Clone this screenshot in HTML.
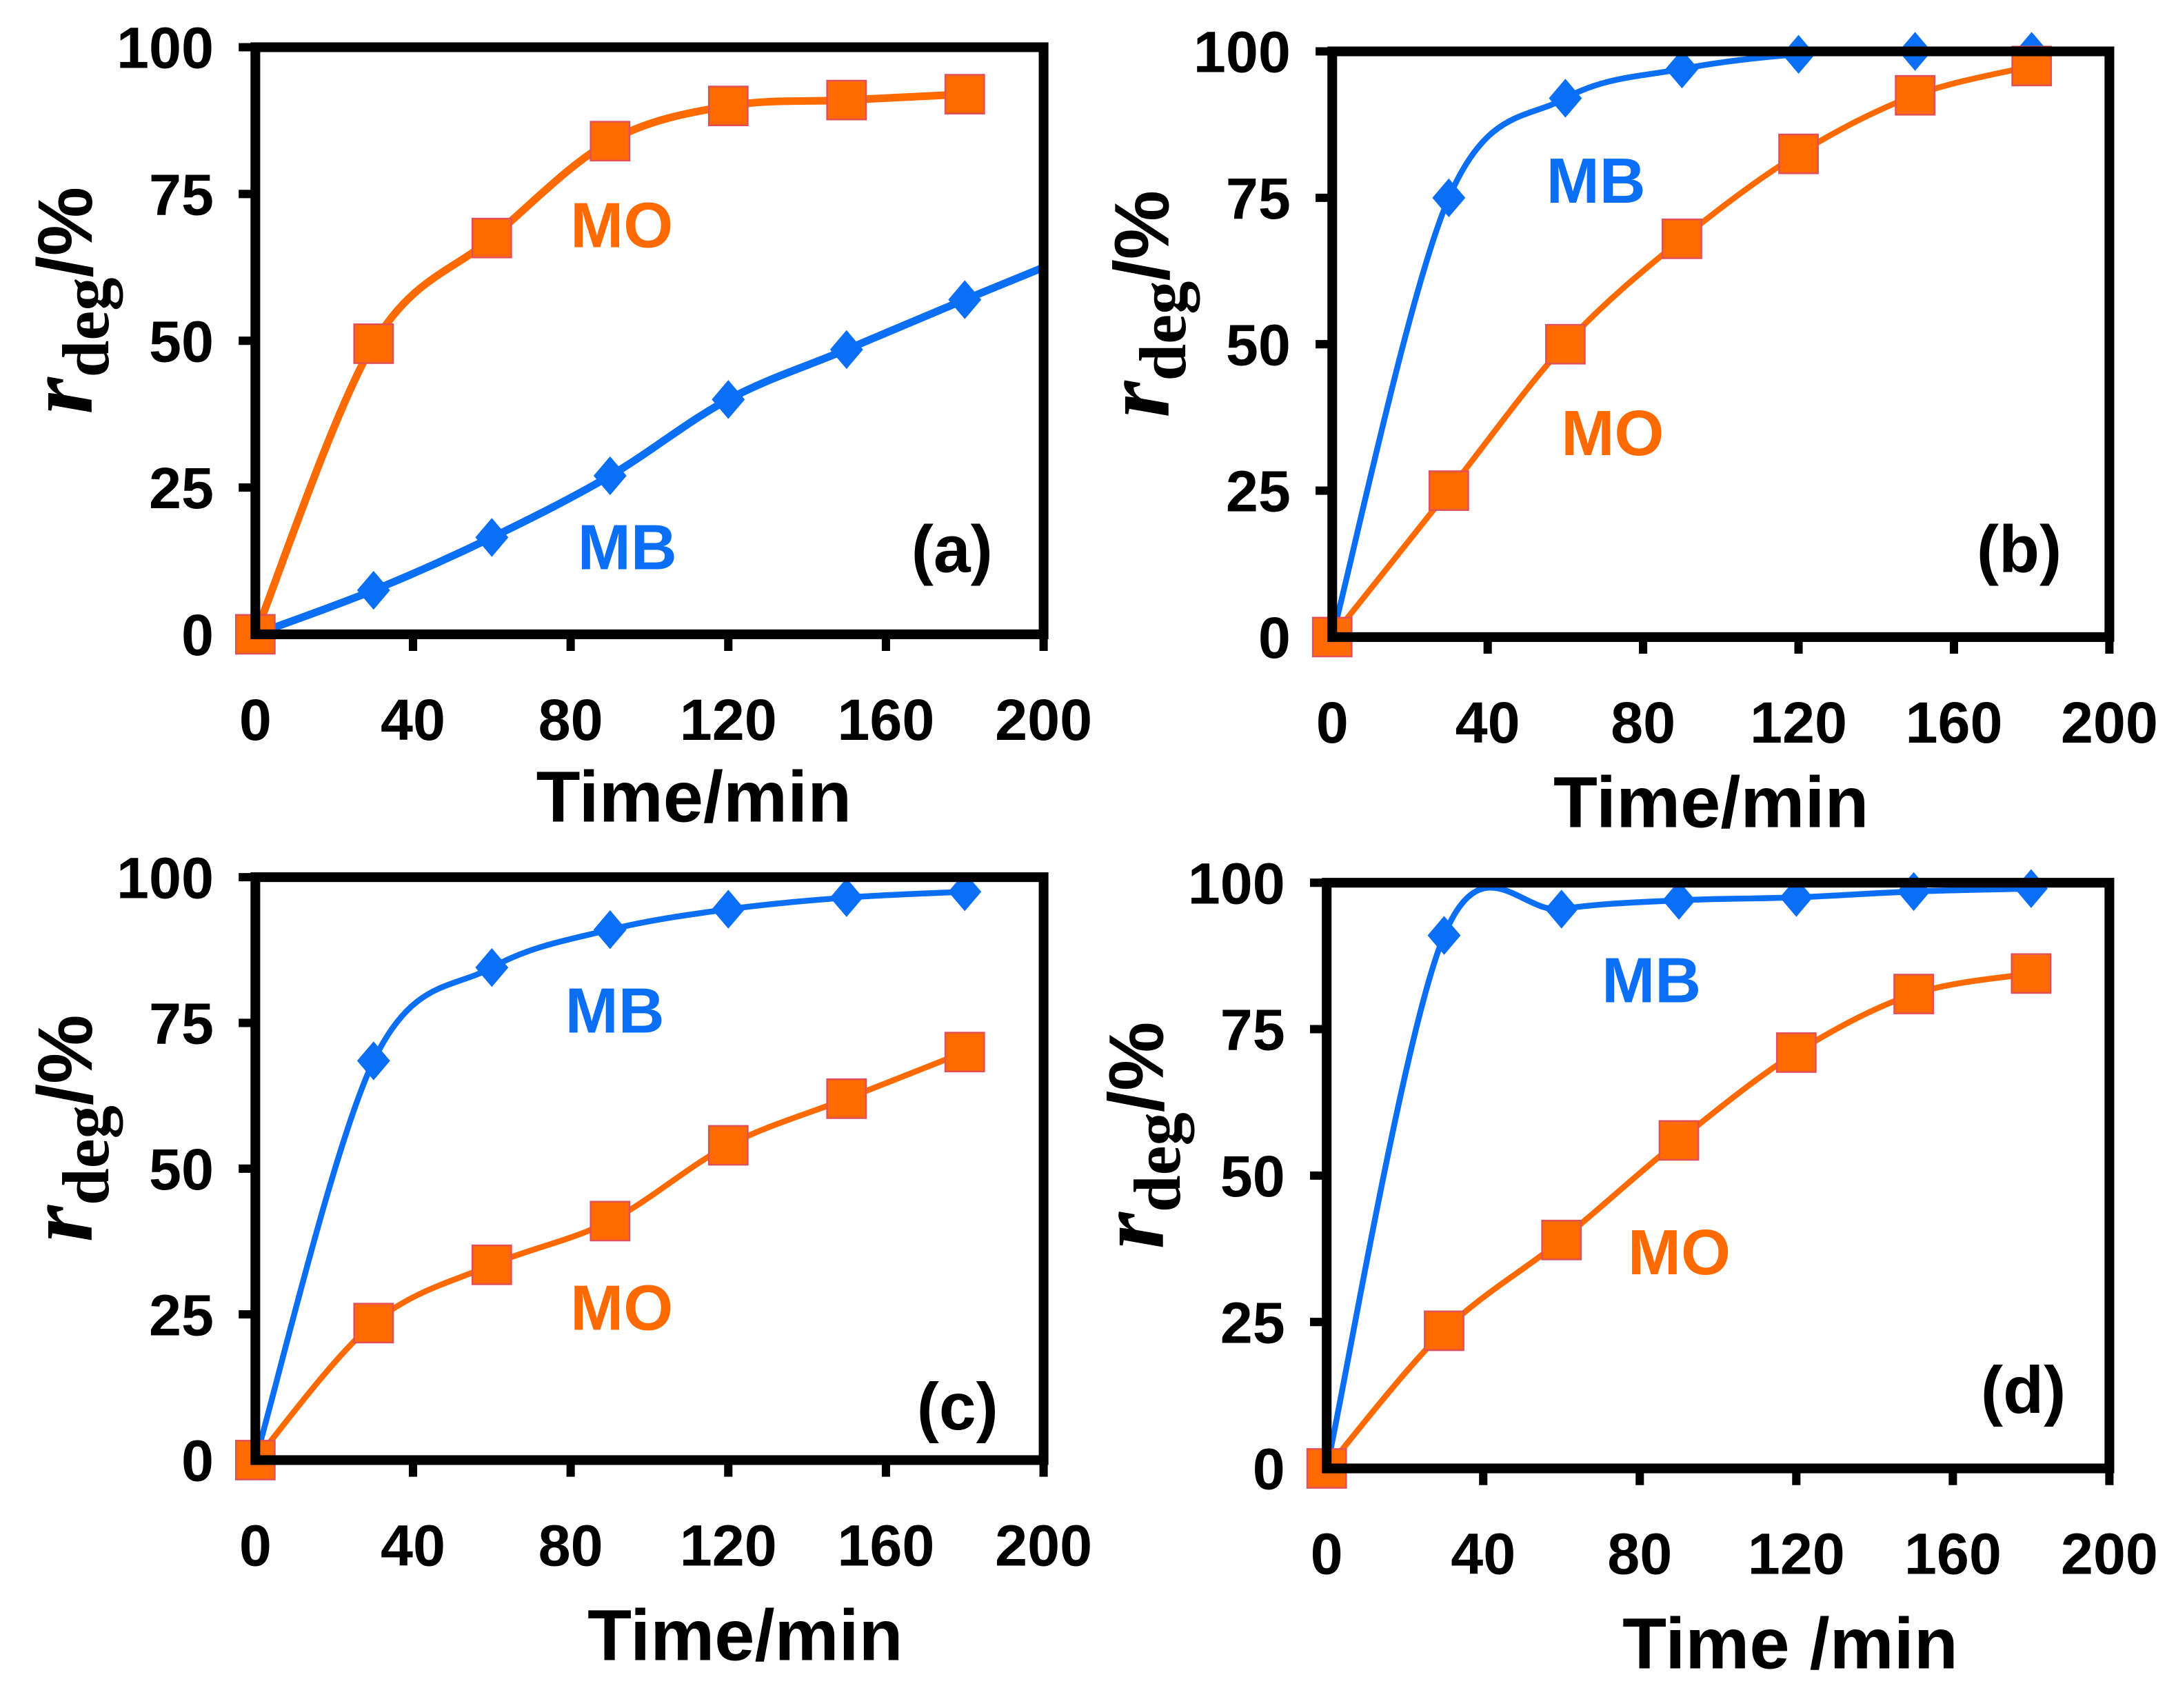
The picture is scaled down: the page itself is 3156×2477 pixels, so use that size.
<!DOCTYPE html>
<html><head><meta charset="utf-8"><style>
html,body{margin:0;padding:0;background:#fff}
svg{display:block}
text{font-family:"Liberation Sans",sans-serif;font-weight:bold}
</style></head><body>
<svg id="fig" width="3156" height="2477" viewBox="0 0 1568 1230.6" xmlns="http://www.w3.org/2000/svg"></svg>
<script>
const times = [0,30,60,90,120,150,180];
const xTicks = [0,40,80,120,160,200];
const yTicks = [0,25,50,75,100];
const aMO = [0,49.5,67.5,84,90,91,92];
const aMB = [0,7.5,16.5,27,40,48.5,57];
const aMBTailT = [200];
const aMBTailV = [62.5];
const bMB = [0,75,92,97,99.5,100,100];
const bMO = [0,25,50,68,82.5,92.5,97.5];
const cMB = [0,68.5,84.5,91,94.5,96.5,97.5];
const cMO = [0,23.5,33.5,41,54,62,70];
const dMB = [0,91,95.5,97,97.5,98.5,99];
const dMO = [0,23.5,39,56,71,81,84.5];

const NS='http://www.w3.org/2000/svg';
const svg=document.getElementById('fig');
const ORANGE='#ff6a00', BLUE='#0a6ff5';
function mk(tag,attrs,parent){const e=document.createElementNS(NS,tag);for(const k in attrs)e.setAttribute(k,attrs[k]);(parent||svg).appendChild(e);return e;}
function spline(pts){
  let d='M'+pts[0][0]+','+pts[0][1];
  for(let i=0;i<pts.length-1;i++){
    const p0=pts[Math.max(0,i-1)],p1=pts[i],p2=pts[i+1],p3=pts[Math.min(pts.length-1,i+2)];
    const t=0.5/3;
    const c1=[p1[0]+(p2[0]-p0[0])*t,p1[1]+(p2[1]-p0[1])*t];
    const c2=[p2[0]-(p3[0]-p1[0])*t,p2[1]-(p3[1]-p1[1])*t];
    d+=' C'+c1[0]+','+c1[1]+' '+c2[0]+','+c2[1]+' '+p2[0]+','+p2[1];
  }
  return d;
}
const panels=[
 {id:'a',L:184,R:752,T:34,B:457,lw:5.5,mo:aMO,mb:aMB,tail:true,
  moLbl:[448,178],mbLbl:[452,410],tag:[686,412],xt:'Time/min',xtPos:[500,592]},
 {id:'b',L:960,R:1520,T:37,B:459,lw:4.2,mo:bMO,mb:bMB,
  moLbl:[1162,328],mbLbl:[1150,146],tag:[1455,412],xt:'Time/min',xtPos:[1233,596]},
 {id:'c',L:184,R:752,T:632,B:1052,lw:4.2,mo:cMO,mb:cMB,
  moLbl:[448,958],mbLbl:[443,744],tag:[690,1030],xt:'Time/min',xtPos:[537,1196]},
 {id:'d',L:956,R:1520,T:636,B:1058,lw:4.2,mo:dMO,mb:dMB,
  moLbl:[1210,918],mbLbl:[1190,722],tag:[1458,1018],xt:'Time /min',xtPos:[1290,1202]}
];
panels.forEach(p=>{
  const g=mk('g',{});
  
  
  const xs=v=>p.L+(v-0)/(200)*(p.R-p.L);
  const ys=v=>p.B-(v/100)*(p.B-p.T);
  xTicks.forEach(v=>{
    const l=mk('line',{x1:xs(v),x2:xs(v),y1:p.B,y2:p.B+12,stroke:'#000','stroke-width':6},g);
    
    
    const t=mk('text',{x:xs(v),y:p.B+76,'font-size':42,'text-anchor':'middle'},g);
    t.textContent=v;
    
    
  });
  yTicks.forEach(v=>{
    const l=mk('line',{x1:p.L-12,x2:p.L,y1:ys(v),y2:ys(v),stroke:'#000','stroke-width':6},g);
    
    
    const t=mk('text',{x:p.L-30,y:ys(v)+15,'font-size':42,'text-anchor':'end'},g);
    t.textContent=v;
    
    
  });
  const moPts=times.map((t,i)=>[xs(t),ys(p.mo[i])]);
  let mbPts=times.map((t,i)=>[xs(t),ys(p.mb[i])]);
  if(p.tail) mbPts=mbPts.concat(aMBTailT.map((t,i)=>[xs(t),ys(aMBTailV[i])]));
  const mbLine=mk('path',{d:spline(mbPts),fill:'none',stroke:BLUE,'stroke-width':p.lw},g);
  
  
  const moLine=mk('path',{d:spline(moPts),fill:'none',stroke:ORANGE,'stroke-width':p.lw},g);
  
  
  times.forEach((t,i)=>{
    const x=xs(t),y=ys(p.mb[i]),s=14;
    const dm=mk('polygon',{points:`${x},${y-s} ${x+s*0.85},${y} ${x},${y+s} ${x-s*0.85},${y}`,fill:BLUE},g);
    
    
  });
  times.forEach((t,i)=>{
    const x=xs(t),y=ys(p.mo[i]),s=14;
    const sq=mk('rect',{x:x-s,y:y-s,width:2*s,height:2*s,fill:ORANGE,stroke:'#e0505a','stroke-width':1.2},g);
    
    
  });
  const f=mk('rect',{x:p.L,y:p.T,width:p.R-p.L,height:p.B-p.T,fill:'none',stroke:'#000','stroke-width':7},g);
  
  
  const mo=mk('text',{x:p.moLbl[0],y:p.moLbl[1],'font-size':46,'text-anchor':'middle',fill:ORANGE},g);
  mo.textContent='MO';
  
  
  const mb=mk('text',{x:p.mbLbl[0],y:p.mbLbl[1],'font-size':46,'text-anchor':'middle',fill:BLUE},g);
  mb.textContent='MB';
  
  
  const tg=mk('text',{x:p.tag[0],y:p.tag[1],'font-size':48,'text-anchor':'middle'},g);
  tg.textContent='('+p.id+')';
  
  
  const xt=mk('text',{x:p.xtPos[0],y:p.xtPos[1],'font-size':52,'text-anchor':'middle'},g);
  xt.textContent=p.xt;
  
  
  const cy=(p.T+p.B)/2-29;
  const yt=mk('text',{x:0,y:0,'text-anchor':'middle',transform:`translate(${p.L-118},${cy}) rotate(-90)`},g);
  
  
  const r=mk('tspan',{'font-family':'Liberation Serif, serif','font-style':'italic','font-size':68},yt); r.textContent='r';
  const dg=mk('tspan',{'font-family':'Liberation Serif, serif','font-size':48,dy:12},yt); dg.textContent='deg';
  const pc=mk('tspan',{'font-size':56,dy:-12},yt); pc.textContent='/%';
});
</script>
</body></html>
